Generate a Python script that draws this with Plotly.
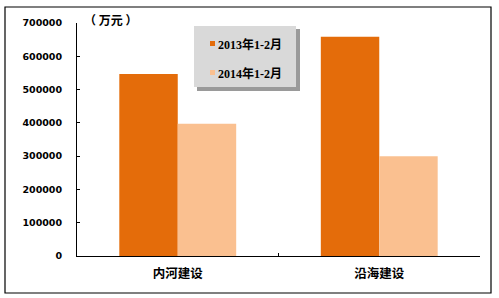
import plotly.graph_objects as go

categories = ["内河建设", "沿海建设"]
series_names = ["2013年1-2月", "2014年1-2月"]
values_2013 = [547000, 659000]
values_2014 = [397000, 300000]
y_ticks = [0, 100000, 200000, 300000, 400000, 500000, 600000, 700000]
colors = ["#E46C0A", "#FAC090"]

W, H = 499, 298
L, R, T, B = 77, 480, 23, 256


def px(x):
    return (x - L) / (R - L)


def py(y):
    return (B - y) / (B - T)


fig = go.Figure()
for name, vals, col in zip(series_names, [values_2013, values_2014], colors):
    fig.add_trace(go.Bar(x=categories, y=vals, name=name, marker_color=col,
                         marker_line_width=0, showlegend=False))

tickfont = dict(family="DejaVu Sans", size=9.5, color="black", weight="bold")
fig.update_layout(
    width=W, height=H,
    margin=dict(l=L, r=W - R, t=T, b=H - B),
    paper_bgcolor="white", plot_bgcolor="white",
    barmode="group", bargap=0.42, bargroupgap=0,
    xaxis=dict(showline=True, linecolor="black", linewidth=1, ticks="inside",
               ticklen=3, tickcolor="black", tickson="boundaries",
               tickfont=dict(family="Noto Sans CJK SC", size=12.5, color="black", weight="bold"),
               showgrid=False, ticklabelstandoff=6),
    yaxis=dict(range=[0, 700000], tickvals=y_ticks, ticktext=[str(v) for v in y_ticks],
               showline=True, linecolor="black", linewidth=1, ticks="inside", ticklen=3,
               tickcolor="black", showgrid=False, zeroline=False, tickfont=tickfont,
               ticklabelstandoff=12),
    showlegend=False,
)

shapes = []
# outer border
shapes.append(dict(type="rect", xref="paper", yref="paper",
                   x0=px(5), x1=px(491), y0=py(293), y1=py(7),
                   line=dict(color="black", width=1.2), fillcolor="rgba(0,0,0,0)", layer="below"))
# legend shadow and box
shapes.append(dict(type="rect", xref="paper", yref="paper",
                   x0=px(197), x1=px(300), y0=py(91), y1=py(29),
                   line=dict(width=0), fillcolor="#9a9a9a", layer="above"))
shapes.append(dict(type="rect", xref="paper", yref="paper",
                   x0=px(194), x1=px(296), y0=py(87), y1=py(26),
                   line=dict(width=0), fillcolor="#D9D9D9", layer="above"))
legend_y = [44, 73]
for col, ly in zip(colors, legend_y):
    shapes.append(dict(type="rect", xref="paper", yref="paper",
                       x0=px(210), x1=px(215), y0=py(ly + 2), y1=py(ly - 3),
                       line=dict(width=0), fillcolor=col, layer="above"))
fig.update_layout(shapes=shapes)

legfont = dict(family="Liberation Serif, Noto Sans CJK SC", size=12, color="black", weight="bold")
for name, ly in zip(series_names, legend_y):
    fig.add_annotation(xref="paper", yref="paper", x=px(216), y=py(ly), text=name,
                       showarrow=False, xanchor="left", yanchor="middle", font=legfont)

fig.add_annotation(xref="paper", yref="paper", x=px(82), y=py(20), text="（ 万元 ）",
                   showarrow=False, xanchor="left", yanchor="middle",
                   font=dict(family="Noto Sans CJK SC", size=12, color="black", weight="bold"))

fig.write_html("out.html")
